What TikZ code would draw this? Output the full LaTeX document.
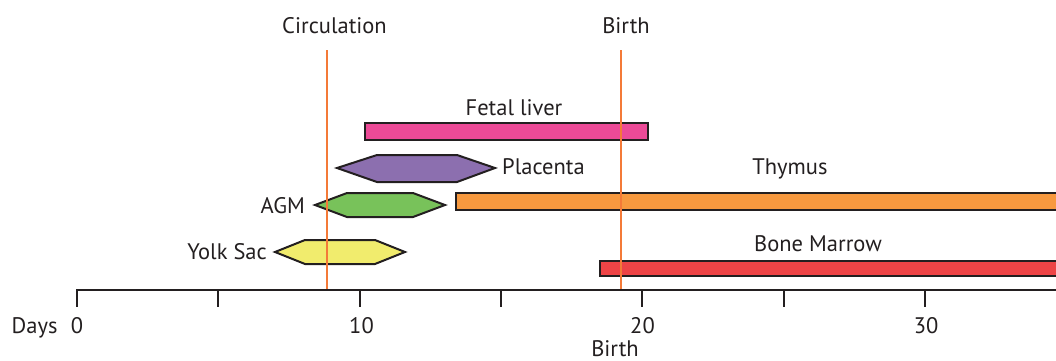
\documentclass[tikz,border=0pt]{standalone}
\usepackage{fontspec}
\setmainfont{PT Sans}
\definecolor{txt}{HTML}{231F20}
\definecolor{vline}{HTML}{F47A38}
\definecolor{cpink}{HTML}{EC4A97}
\definecolor{cpurple}{HTML}{8C6FAF}
\definecolor{cgreen}{HTML}{78C25A}
\definecolor{cyellow}{HTML}{F1EC6D}
\definecolor{corange}{HTML}{F7993F}
\definecolor{cred}{HTML}{EE4446}
\begin{document}
\begin{tikzpicture}[x=1pt,y=-1pt,
  lbl/.style={inner sep=0pt,text=txt,font=\fontsize{22.5}{27}\selectfont},
  shp/.style={draw=txt,line width=2pt,line join=miter},
  vl/.style={draw=vline,line width=2pt},
  axisline/.style={draw=txt,line width=2pt}]
\useasboundingbox (0,0) rectangle (1056,360);
\clip (0,0) rectangle (1056,360);
% bars
\draw[shp,fill=cpink] (365,123) rectangle (648,140);
\draw[shp,fill=corange] (456,193) rectangle (1070,210);
\draw[shp,fill=cred] (600,261) rectangle (1070,276);
% hexagons
\draw[shp,fill=cpurple] (337,168) -- (377,155) -- (457,155) -- (495,168) -- (457,182) -- (377,182) -- cycle;
\draw[shp,fill=cgreen] (315,205) -- (347,193) -- (413,193) -- (445,205) -- (413,217) -- (347,217) -- cycle;
\draw[shp,fill=cyellow] (275,252) -- (305,240) -- (375,240) -- (405,252) -- (375,264) -- (305,264) -- cycle;
% vertical lines
\coordinate (ctop) at (327,50);
\coordinate (cbot) at (327,290);
\coordinate (btop) at (620.5,50);
\coordinate (bbot) at (620.5,290);
\draw[vl] (ctop) -- (cbot);
\draw[vl] (btop) -- (bbot);
% axis
\coordinate (a0) at (77,290);
\coordinate (a1) at (1070,290);
\draw[axisline] (a0) -- (a1);
\foreach \i in {0,...,7} {
  \draw[axisline] (77+141.3*\i,289) -- (77+141.3*\i,307);
}
% labels
\node[lbl,anchor=base] (lcirc) at (334.5,33) {Circulation};
\node[lbl,anchor=base] (lbirth) at (626,33) {Birth};
\node[lbl,anchor=base] (lliver) at (514,115) {Fetal liver};
\node[lbl,anchor=base west] (lplac) at (502,174) {Placenta};
\node[lbl,anchor=base] (lthym) at (790,174) {Thymus};
\node[lbl,anchor=base east] (lagm) at (305,213) {AGM};
\node[lbl,anchor=base east] (lyolk) at (267,259) {Yolk Sac};
\node[lbl,anchor=base] (lbone) at (818,251) {Bone Marrow};
\node[lbl,anchor=base west] (ldays) at (11.5,333) {Days};
\node[lbl,anchor=base] (l0) at (77,333) {0};
\node[lbl,anchor=base] (l10) at (361.5,333) {10};
\node[lbl,anchor=base] (l20) at (642.5,333) {20};
\node[lbl,anchor=base] (l30) at (926,333) {30};
\node[lbl,anchor=base] (lbirth2) at (615,356.5) {Birth};
\end{tikzpicture}
\end{document}
